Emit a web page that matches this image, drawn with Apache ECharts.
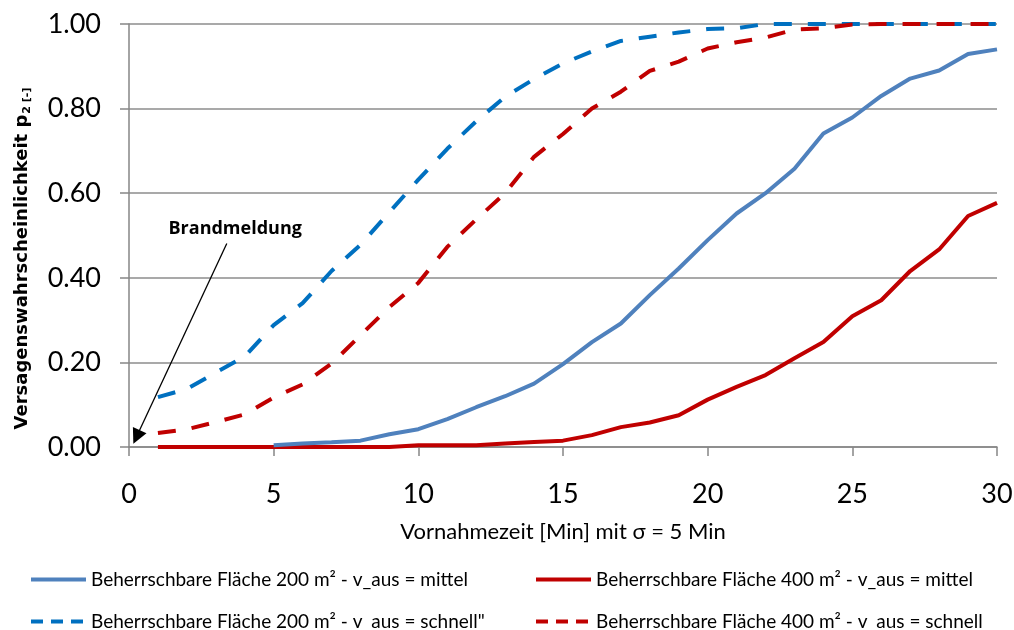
<!DOCTYPE html>
<html>
<head>
<meta charset="utf-8">
<script src="https://cdn.jsdelivr.net/npm/echarts@6/dist/echarts.min.js"></script>
<style>
  html, body { margin: 0; padding: 0; background: #fff; }
  #chart { width: 1014px; height: 630px; }
</style>
</head>
<body>
<div id="chart"></div>
<script>
// ---- data ----
const minutes = [1,2,3,4,5,6,7,8,9,10,11,12,13,14,15,16,17,18,19,20,21,22,23,24,25,26,27,28,29,30];

const flaeche200Mittel = [null,null,null,null,0.004,0.008,0.011,0.015,0.030,0.042,0.066,0.094,0.120,0.150,0.196,0.248,0.292,0.359,0.422,0.489,0.552,0.600,0.658,0.741,0.779,0.830,0.871,0.890,0.929,0.940];
const flaeche400Mittel = [0,0,0,0,0,0,0,0,0,0.004,0.004,0.004,0.008,0.012,0.015,0.028,0.047,0.058,0.075,0.112,0.142,0.170,0.210,0.248,0.309,0.347,0.416,0.467,0.546,0.577];
const flaeche200Schnell = [0.118,0.137,0.176,0.214,0.288,0.340,0.416,0.478,0.555,0.632,0.705,0.770,0.828,0.870,0.907,0.935,0.960,0.970,0.980,0.988,0.990,1.000,1.000,1.000,1.000,1.000,1.000,1.000,1.000,1.000];
const flaeche400Schnell = [0.033,0.042,0.059,0.077,0.117,0.148,0.197,0.264,0.331,0.388,0.473,0.538,0.600,0.686,0.740,0.800,0.840,0.889,0.911,0.942,0.957,0.968,0.987,0.990,0.999,1.000,1.000,1.000,1.000,1.000];

const seriesNames = [
  'Beherrschbare Fläche 200 m² - v_aus = mittel',
  'Beherrschbare Fläche 400 m² - v_aus = mittel',
  'Beherrschbare Fläche 200 m² - v_aus = schnell"',
  'Beherrschbare Fläche 400 m² - v_aus = schnell'
];

const yTicks = { min: 0, max: 1, interval: 0.2 };
const xTicks = { min: 0, max: 30, interval: 5 };

const annotationText = 'Brandmeldung';
const annotationLabelAt = [3.67, 0.515];
const arrowFrom = [3.38, 0.481];
const arrowTo = [0.26, 0.024];

// ---- chart ----
const FONT = 'Lato, "Open Sans", sans-serif';
const BOLDFONT = '"DejaVu Sans", "Open Sans", sans-serif';
const pair = arr => minutes.map((m, i) => [m, arr[i]]);

const chart = echarts.init(document.getElementById('chart'), null, { renderer: 'canvas' });

function legendAt(name, left, top, dashed) {
  const item = { name: name, itemStyle: { opacity: 0 }, lineStyle: { width: 4 } };
  if (dashed) item.lineStyle = { type: [12, 8], width: 4 };
  return {
    data: [item],
    left: left, top: top, padding: 0,
    orient: 'horizontal',
    itemWidth: 55, itemHeight: 14, itemGap: 0,
    selectedMode: false,
    textStyle: { fontFamily: FONT, fontSize: 19, color: '#000' }
  };
}

const option = {
  backgroundColor: '#fff',
  animation: false,
  grid: { left: 129, right: 17, top: 24, bottom: 183, containLabel: false, outerBoundsMode: 'none' },
  legend: [
    legendAt(seriesNames[0], 29, 570, false),
    legendAt(seriesNames[1], 534, 570, false),
    legendAt(seriesNames[2], 29, 612, true),
    legendAt(seriesNames[3], 534, 612, true)
  ],
  xAxis: {
    type: 'value', min: xTicks.min, max: xTicks.max, interval: xTicks.interval,
    name: 'Vornahmezeit [Min] mit σ = 5 Min',
    nameLocation: 'middle', nameGap: 74,
    nameTextStyle: { fontFamily: FONT, fontSize: 22, color: '#000' },
    axisLine: { show: true, lineStyle: { color: '#868686', width: 1.5 } },
    axisTick: { show: true, length: 9, lineStyle: { color: '#868686', width: 1.5 } },
    axisLabel: { margin: 34, fontFamily: FONT, fontSize: 27, color: '#000' },
    splitLine: { show: false }
  },
  yAxis: {
    type: 'value', min: yTicks.min, max: yTicks.max, interval: yTicks.interval,
    name: '{a|Versagenswahrscheinlichkeit p}{b|2 [-]}',
    nameLocation: 'middle', nameGap: 96,
    nameTextStyle: {
      padding: [0, 46, 0, 0],
      rich: {
        a: { fontFamily: BOLDFONT, fontSize: 18, fontWeight: 'bold', color: '#000', lineHeight: 22 },
        b: { fontFamily: BOLDFONT, fontSize: 11, fontWeight: 'bold', color: '#000', lineHeight: 13, verticalAlign: 'bottom', padding: [0, 0, 0, 1] }
      }
    },
    axisLine: { show: true, lineStyle: { color: '#868686', width: 1.5 } },
    axisTick: { show: true, length: 9, lineStyle: { color: '#868686', width: 1.5 } },
    axisLabel: { margin: 28, fontFamily: FONT, fontSize: 27, color: '#000', formatter: v => v.toFixed(2) },
    splitLine: { show: true, lineStyle: { color: '#8c8c8c', width: 1.5 } }
  },
  series: [
    {
      name: seriesNames[0], type: 'line', data: pair(flaeche200Mittel),
      symbol: 'none', connectNulls: false,
      lineStyle: { color: '#4F81BD', width: 4 }, itemStyle: { color: '#4F81BD' }, z: 3
    },
    {
      name: seriesNames[1], type: 'line', data: pair(flaeche400Mittel),
      symbol: 'none',
      lineStyle: { color: '#C00000', width: 4 }, itemStyle: { color: '#C00000' }, z: 2
    },
    {
      name: seriesNames[2], type: 'line', data: pair(flaeche200Schnell),
      symbol: 'none',
      lineStyle: { color: '#0070C0', width: 4, type: [18, 16], cap: 'butt' }, itemStyle: { color: '#0070C0' }, z: 2
    },
    {
      name: seriesNames[3], type: 'line', data: pair(flaeche400Schnell),
      symbol: 'none',
      lineStyle: { color: '#C00000', width: 4, type: [18, 16], cap: 'butt' }, itemStyle: { color: '#C00000' }, z: 4,
      markLine: {
        silent: true, animation: false,
        symbol: ['none', 'triangle'], symbolSize: 15,
        lineStyle: { color: '#000', width: 1.3, type: 'solid' },
        itemStyle: { color: '#000' },
        label: { show: false },
        data: [[ { coord: arrowFrom }, { coord: arrowTo } ]]
      },
      markPoint: {
        silent: true, animation: false,
        symbol: 'circle', symbolSize: 0,
        label: { show: true, position: 'inside', formatter: annotationText, fontFamily: '"Open Sans", sans-serif', fontSize: 18, fontWeight: 'bold', color: '#000' },
        data: [ { coord: annotationLabelAt } ]
      }
    }
  ]
};

chart.setOption(option);
</script>
</body>
</html>
